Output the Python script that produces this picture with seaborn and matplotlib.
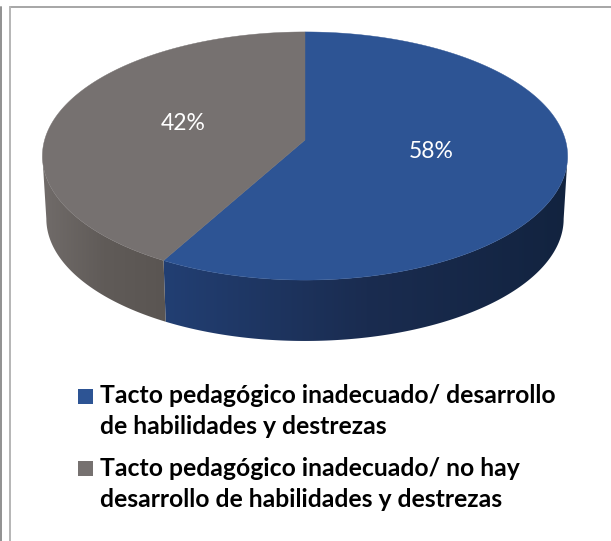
import numpy as np
import pandas as pd
import seaborn as sns
import matplotlib
matplotlib.use("Agg")
import matplotlib.pyplot as plt
from matplotlib.patches import Polygon, Rectangle
from matplotlib.lines import Line2D

categories = ["Tacto pedagógico inadecuado/ desarrollo\nde habilidades y destrezas",
              "Tacto pedagógico inadecuado/ no hay\ndesarrollo de habilidades y destrezas"]
values = [58, 42]
top_colors = ["#2D5494", "#767170"]
side_stops = [["#223F73", "#1A2C50", "#12233F"], ["#716C6A", "#605B58", "#5A5552"]]

sns.set_theme(style="white")
plt.rcParams["font.family"] = ["Lato", "DejaVu Sans"]

df = pd.DataFrame({"category": categories, "value": values})
df["share"] = df["value"] / df["value"].sum()
df["end"] = df["share"].cumsum() * 2 * np.pi
df["start"] = df["end"] - df["share"] * 2 * np.pi

fig = plt.figure(figsize=(6.11, 5.41), dpi=100)
ax = fig.add_axes([0, 0, 1, 1])

CX, CY_TOP, CY_BOT, K, C, D, SHRINK = 305, 140, 203, 0.129, 122, 260.4, 0.985

def project(theta, cy, scale=1.0):
    """theta: clockwise from 12 o'clock, projected with slight perspective."""
    x, y = np.sin(theta), np.cos(theta)
    w = 1 + K * y
    return CX + scale * D * x / w, cy - scale * C * y / w

# the wall is visible between the two widest points of the projected ellipse
widest = np.arccos(-K)

# side wall: a horizontal gradient clipped to each slice's wall
for _, row in df.iterrows():
    i = row.name
    lo, hi = max(row["start"], widest), min(row["end"], 2 * np.pi - widest)
    t = np.linspace(lo, hi, 200)
    xt, yt = project(t, CY_TOP)
    xb, yb = project(t[::-1], CY_BOT, SHRINK)
    xs, ys = np.r_[xt, xb], np.r_[yt, yb]
    wall = Polygon(np.c_[xs, ys], closed=True, facecolor="none", edgecolor="none",
                   transform=ax.transData)
    ax.add_patch(wall)
    cmap = sns.blend_palette(side_stops[i], as_cmap=True)
    gradient = np.linspace(0, 1, 256)[None, :]
    extent = (xs.min() - 1, xs.max() + 1, ys.max() + 1, ys.min() - 1)
    im = ax.imshow(gradient, cmap=cmap, extent=extent, aspect="auto", zorder=2,
                   interpolation="bilinear")
    im.set_clip_path(wall)

ax.set_xlim(0, 611)
ax.set_ylim(541, 0)
ax.axis("off")

# top face
for _, row in df.iterrows():
    t = np.linspace(row["start"], row["end"], 300)
    xs, ys = project(t, CY_TOP)
    ax.add_patch(Polygon(np.c_[np.r_[CX, xs], np.r_[CY_TOP, ys]], closed=True,
                         facecolor=top_colors[row.name], edgecolor=top_colors[row.name],
                         lw=0.3, zorder=3))

# data labels
label_pos = [(431, 151), (183, 123)]
for v, (lx, ly) in zip(values, label_pos):
    ax.text(lx, ly, f"{v}%", color="white", fontsize=16.5, ha="center", va="center", zorder=4)

# frame
ax.add_line(Line2D([9.5, 611], [6.5, 6.5], color="#A6A6A6", lw=1.4, zorder=5))
ax.add_line(Line2D([9.5, 9.5], [6.5, 541], color="#B5B5B5", lw=1.4, zorder=5))
ax.add_line(Line2D([0.5, 0.5], [6.5, 541], color="#909090", lw=1.4, zorder=5))

# legend
swatch_y = [389, 461]
line_base = [[403, 434], [476, 507]]
for cat, col, sy, bases in zip(categories, top_colors, swatch_y, line_base):
    ax.add_patch(Rectangle((78, sy), 15, 15, facecolor=col, edgecolor="none", zorder=4))
    for line, base in zip(cat.split("\n"), bases):
        ax.text(100, base, line, color="black", fontsize=17.8, fontweight="bold",
                ha="left", va="baseline", zorder=4)

fig.savefig("out.png", dpi=100)
